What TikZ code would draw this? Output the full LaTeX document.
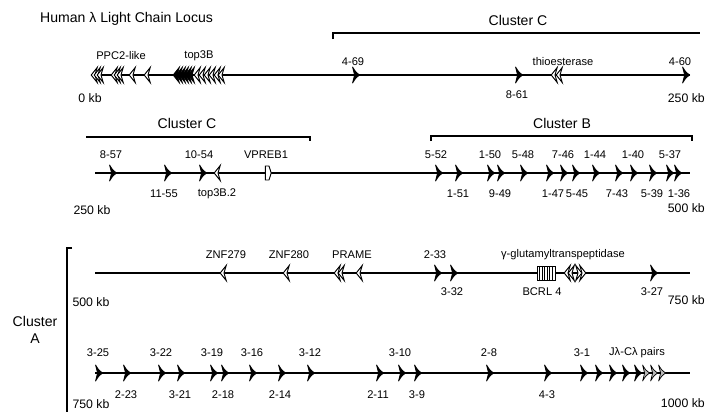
\documentclass[tikz,border=0pt]{standalone}
\usepackage{fontspec}
\setmainfont{Liberation Sans}
\usetikzlibrary{positioning}
\tikzset{
  locus/.style={line width=1.3pt},
  bracket/.style={line width=1.6pt},
  genelabel/.style={font=\fontsize{9.5}{11}\selectfont, inner sep=0pt},
  kblabel/.style={font=\fontsize{10.5}{12}\selectfont, inner sep=0pt},
  clusterlabel/.style={font=\fontsize{12}{14}\selectfont, inner sep=0pt, align=center},
  fwdgene/.pic={\filldraw[line width=0.7pt, line join=round] (-2.4,-8) .. controls (0.6,-3) .. (4.6,0) .. controls (0.6,3) .. (-2.4,8) -- (-0.4,0) -- cycle;},
  fwdgrey/.pic={\filldraw[fill=gray!55, line width=0.6pt, line join=round] (-2.4,-8) .. controls (0.6,-3) .. (4.6,0) .. controls (0.6,3) .. (-2.4,8) -- (-0.4,0) -- cycle;},
  fwdopen/.pic={\filldraw[fill=white, line width=0.8pt] (-2.2,-7.5) -- (3.8,0) -- (-2.2,7.5) -- (0,0) -- cycle;},
  revgene/.pic={\filldraw[fill=white, line width=0.8pt] (2.2,-7.5) -- (-3.8,0) -- (2.2,7.5) -- (0,0) -- cycle;},
  revgenefill/.pic={\filldraw[line width=0.8pt] (2.2,-7.5) -- (-3.8,0) -- (2.2,7.5) -- (0,0) -- cycle;},
  pseudobox/.pic={\filldraw[fill=white, line width=0.8pt] (-2.6,-7) -- (1,-7) -- (3.2,0) -- (1,7) -- (-2.6,7) -- cycle;}
}

\begin{document}
\begin{tikzpicture}[x=0.03cm, y=-0.03cm]
  \useasboundingbox (0,0) rectangle (706,412);
  \node[clusterlabel, anchor=west] (title) at (40,19) {Human λ Light Chain Locus};

  % row 1: 0-250 kb
  \coordinate (r1w) at (95,75);
  \coordinate (r1e) at (690,75);
  \draw[locus] (r1w) -- (r1e);
  \coordinate (c1t) at (333,39);
  \coordinate (c1l) at (333,33);
  \coordinate (c1r) at (700,33);
  \draw[bracket] (c1t) -- (c1l) -- (c1r);
  \node[clusterlabel] (clusterC1) at (518,20) {Cluster C};
  \foreach \x in {95,98,101,115,118,121,133,148,198,203,208,213,218,222,555,560}
    \pic at (\x,75) {revgene};
  \foreach \x in {177,180,183,186,189,192}
    \pic at (\x,75) {revgenefill};
  \foreach \x in {355,518,685}
    \pic at (\x,75) {fwdgene};
  \node[genelabel] (ppc) at (121,56) {PPC2-like};
  \node[genelabel] (topA) at (199,56) {top3B};
  \node[genelabel] (v469) at (353,62) {4-69};
  \node[genelabel] (v861) at (517,95) {8-61};
  \node[genelabel] (thio) at (563,62) {thioesterase};
  \node[genelabel] (v460) at (680,62) {4-60};
  \node[kblabel] (kb0) at (90,98) {0 kb};
  \node[kblabel, anchor=east] (kb250a) at (705,98) {250 kb};

  % row 2: 250-500 kb
  \coordinate (r2w) at (95,173);
  \coordinate (r2e) at (690,173);
  \draw[locus] (r2w) -- (r2e);
  \coordinate (c2l) at (86,137);
  \coordinate (c2r) at (310,137);
  \coordinate (c2t) at (310,141);
  \draw[bracket] (c2l) -- (c2r) -- (c2t);
  \node[clusterlabel] (clusterC2) at (187,123) {Cluster C};
  \coordinate (cbtl) at (431,141);
  \coordinate (cbl) at (431,136);
  \coordinate (cbr) at (692,136);
  \coordinate (cbtr) at (692,141);
  \draw[bracket] (cbtl) -- (cbl) -- (cbr) -- (cbtr);
  \node[clusterlabel] (clusterB) at (562,123) {Cluster B};
  \foreach \x in {112,167,202,438,458,490,500,523,549,563,575,595,618,633,652,669,677}
    \pic at (\x,173) {fwdgene};
  \pic at (218,173) {revgene};
  \pic at (268,173) {pseudobox};
  \foreach \x/\t [count=\i] in {111/8-57,199/10-54,266/VPREB1,436/5-52,490/1-50,523/5-48,563/7-46,595/1-44,633/1-40,670/5-37}
    \node[genelabel] (up2\i) at (\x,155) {\t};
  \foreach \x/\t [count=\i] in {164/11-55,217/top3B.2,458/1-51,500/9-49,553/1-47,577/5-45,617/7-43,652/5-39,679/1-36}
    \node[genelabel] (dn2\i) at (\x,194) {\t};
  \node[kblabel] (kb250b) at (92,210) {250 kb};
  \node[kblabel, anchor=east] (kb500a) at (705,208) {500 kb};

  % row 3: 500-750 kb
  \coordinate (caTick) at (72,248);
  \coordinate (caT) at (67,248);
  \coordinate (caB) at (67,412);
  \draw[bracket] (caTick) -- (caT) -- (caB);
  \node[clusterlabel] (clusterA) at (35,330) {Cluster\\A};
  \coordinate (r3w) at (95,273);
  \coordinate (r3e) at (690,273);
  \draw[locus] (r3w) -- (r3e);
  \foreach \x in {224,287,338,342,360,568,572}
    \pic at (\x,273) {revgene};
  \foreach \x in {578,582}
    \pic at (\x,273) {fwdopen};
  \foreach \x in {437,453,653}
    \pic at (\x,273) {fwdgene};
  \filldraw[fill=white, line width=0.6pt] (537,266) rectangle (555,280);
  \foreach \x in {539.5,542,...,553}
    \draw[line width=0.7pt] (\x,266) -- (\x,280);
  \foreach \x/\t [count=\i] in {226/ZNF279,289/ZNF280,352/PRAME,435/2-33,563/γ-glutamyltranspeptidase}
    \node[genelabel] (up3\i) at (\x,255) {\t};
  \foreach \x/\t [count=\i] in {452/3-32,542/BCRL 4,652/3-27}
    \node[genelabel] (dn3\i) at (\x,292) {\t};
  \node[kblabel] (kb500b) at (91,302) {500 kb};
  \node[kblabel, anchor=east] (kb750a) at (705,300) {750 kb};

  % row 4: 750-1000 kb
  \coordinate (r4w) at (95,373);
  \coordinate (r4e) at (690,373);
  \draw[locus] (r4w) -- (r4e);
  \foreach \x in {98,126,161,180,213,224,252,281,310,379,401,417,489,547,583,598,612,625,637}
    \pic at (\x,373) {fwdgene};
  \foreach \x in {645,653,661}
    \pic at (\x,373) {fwdgrey};
  \foreach \x/\t [count=\i] in {98/3-25,161/3-22,212/3-19,252/3-16,310/3-12,400/3-10,489/2-8,582/3-1,637/Jλ-Cλ pairs}
    \node[genelabel] (up4\i) at (\x,353) {\t};
  \foreach \x/\t [count=\i] in {126/2-23,180/3-21,223/2-18,280/2-14,378/2-11,417/3-9,547/4-3}
    \node[genelabel] (dn4\i) at (\x,395) {\t};
  \node[kblabel] (kb750b) at (91,404) {750 kb};
  \node[kblabel, anchor=east] (kb1000) at (705,403) {1000 kb};
\end{tikzpicture}
\end{document}
